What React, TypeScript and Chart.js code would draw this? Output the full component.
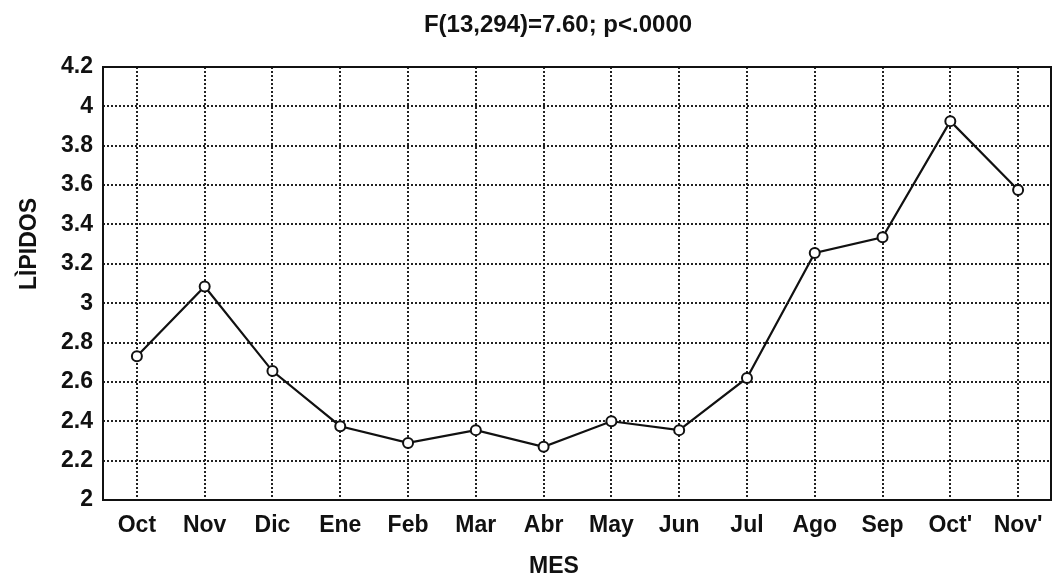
import React, { useEffect, useRef } from "react";
import { Chart, registerables } from "chart.js";

Chart.register(...registerables);

const months = ["Oct", "Nov", "Dic", "Ene", "Feb", "Mar", "Abr", "May", "Jun", "Jul", "Ago", "Sep", "Oct'", "Nov'"];
const lipidos = [2.73, 3.085, 2.655, 2.375, 2.29, 2.355, 2.27, 2.40, 2.355, 2.62, 3.255, 3.335, 3.925, 3.575];
const yTickValues = [2, 2.2, 2.4, 2.6, 2.8, 3, 3.2, 3.4, 3.6, 3.8, 4, 4.2];
const titleText = "F(13,294)=7.60; p<.0000";
const xTitle = "MES";
const yTitle = "LÌPIDOS";

const FONT = "'Liberation Sans', Arial, sans-serif";

export default function App() {
  const ref = useRef<HTMLCanvasElement | null>(null);

  useEffect(() => {
    if (!ref.current) return;
    const textPlugin = {
      id: "texts",
      afterDraw(chart: any) {
        const ctx = chart.ctx as CanvasRenderingContext2D;
        const a = chart.chartArea;
        ctx.save();
        ctx.strokeStyle = "#111";
        ctx.lineWidth = 2;
        ctx.setLineDash([]);
        ctx.strokeRect(a.left, a.top, a.right - a.left - 1, a.bottom - a.top);
        ctx.fillStyle = "#111";
        ctx.font = `bold 24px ${FONT}`;
        ctx.textAlign = "center";
        ctx.textBaseline = "middle";
        ctx.fillText(titleText, 558, 25);
        ctx.font = `bold 23px ${FONT}`;
        ctx.fillText(xTitle, 554, 567);
        ctx.translate(30, 244);
        ctx.rotate(-Math.PI / 2);
        ctx.fillText(yTitle, 0, 0);
        ctx.restore();
      },
    };

    const chart = new Chart(ref.current, {
      type: "line",
      data: {
        labels: months,
        datasets: [
          {
            data: lipidos,
            borderColor: "#111",
            borderWidth: 2.2,
            pointRadius: 5,
            pointBorderWidth: 2,
            pointBackgroundColor: "#fff",
            pointBorderColor: "#111",
            tension: 0,
          },
        ],
      },
      options: {
        responsive: false,
        animation: false,
        layout: { autoPadding: false, padding: { top: 67, right: 0, left: 0, bottom: 0 } },
        plugins: { legend: { display: false }, title: { display: false }, tooltip: { enabled: false } },
        scales: {
          x: {
            type: "category",
            offset: true,
            grid: {
              color: "#222",
              lineWidth: 2,
              drawTicks: false,
              offset: false,
            },
            border: { display: false, dash: [2, 2] },
            ticks: { color: "#111", font: { family: FONT, size: 23, weight: "bold" }, padding: 12, maxRotation: 0, autoSkip: false },
            afterFit: (s: any) => {
              s.height = 78;
              s.paddingLeft = 0;
              s.paddingRight = 0;
            },
          },
          y: {
            min: 2,
            max: 4.2,
            grid: { color: "#222", lineWidth: 2, drawTicks: false },
            border: { display: false, dash: [2, 2] },
            afterBuildTicks: (s: any) => {
              s.ticks = yTickValues.map((v) => ({ value: v }));
            },
            ticks: {
              color: "#111",
              font: { family: FONT, size: 23, weight: "bold" },
              padding: 10,
              callback: (v: any) => String(Number(Number(v).toFixed(1))),
            },
            afterFit: (s: any) => {
              s.width = 103;
              s.paddingTop = 0;
              s.paddingBottom = 0;
            },
          },
        },
      },
      plugins: [textPlugin],
    });
    return () => chart.destroy();
  }, []);

  return (
    <div style={{ position: "fixed", left: 0, top: 0, width: 1052, height: 578, background: "#fff" }}>
      <canvas ref={ref} width={1052} height={578} style={{ display: "block" }} />
    </div>
  );
}
